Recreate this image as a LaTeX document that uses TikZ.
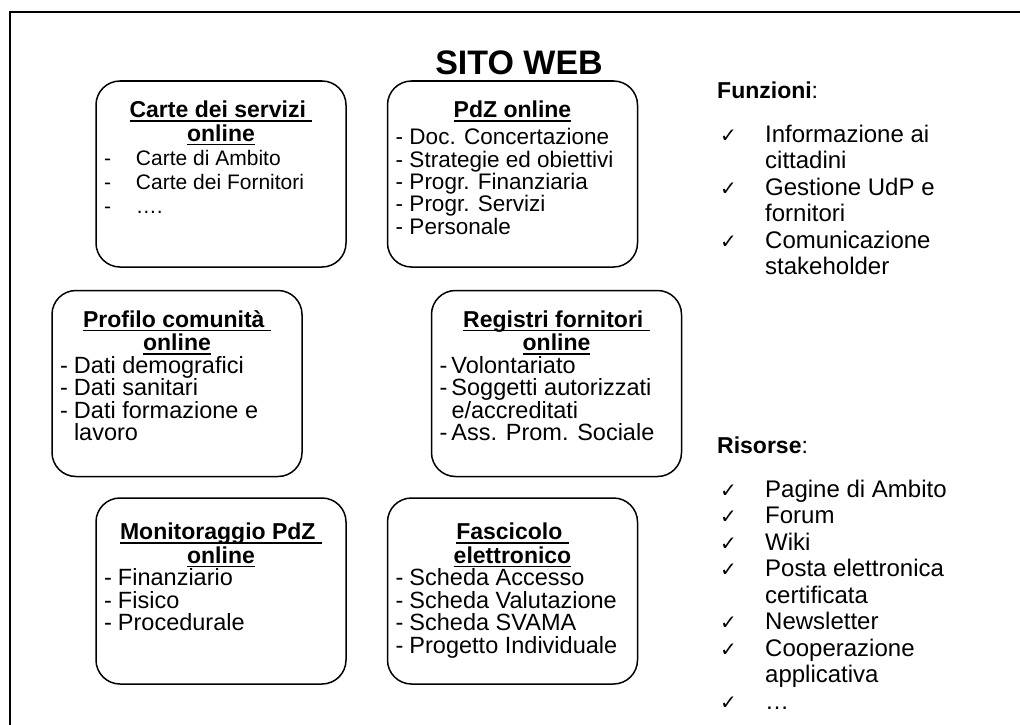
\documentclass[tikz,border=0pt]{standalone}
\usepackage{fontspec}
\setmainfont{Liberation Sans}
\newfontfamily\symfont{DejaVu Sans}
\usetikzlibrary{positioning}

\newcommand{\ulined}[1]{\leavevmode\setbox0=\hbox{#1}\rlap{\rule[-4pt]{\wd0}{1.5pt}}\box0}
\newcommand{\cardhead}[1]{{\centering\fontsize{23}{23.5}\selectfont\bfseries #1\par}}
\newcommand{\dashitem}[2][14pt]{\par\noindent\makebox[#1][l]{-}#2}
\newcommand{\moreline}[2][14pt]{\par\noindent\hspace*{#1}#2}
\newcommand{\cardbody}[3][12pt]{\parbox[c][170pt][t]{234pt}{#2\vspace*{#1}#3}}
\newcommand{\tick}{{\symfont\fontsize{20}{20}\selectfont ✓}}

\begin{document}
\begin{tikzpicture}[
    x=1pt, y=-1pt,
    card/.style={draw, line width=1.5pt, rounded corners=24pt, inner sep=8pt},
    heading/.style={anchor=west, inner sep=0pt, font=\fontsize{23}{28}\selectfont\bfseries},
    checklist/.style={anchor=north west, inner sep=0pt, font=\fontsize{24}{26.5}\selectfont}
]
    \useasboundingbox (0,0) rectangle (1020,725);
    \draw [line width=2pt] (1020,12) -| (10,725);

    \node (sito) [font=\fontsize{34}{40}\selectfont\bfseries] at (519,63) {SITO WEB};

    \node (carte) [card] at (221,174) {\cardbody{\fontsize{21}{24}\selectfont}{%
        \cardhead{\ulined{Carte dei servizi\ }\\\ulined{online}}
        \dashitem[32pt]{Carte di Ambito}
        \dashitem[32pt]{Carte dei Fornitori}
        \dashitem[32pt]{….}}};
    \node (pdz) [card, right=40pt of carte] {\cardbody{\fontsize{22.5}{22.3}\selectfont}{%
        \cardhead{\ulined{PdZ online}}\vspace{5pt}
        \dashitem{Doc. Concertazione}
        \dashitem{Strategie ed obiettivi}
        \dashitem{Progr. Finanziaria}
        \dashitem{Progr. Servizi}
        \dashitem{Personale}}};
    \node (profilo) [card, below=22pt of carte, xshift=-44pt] {\cardbody{\fontsize{23.5}{22.5}\selectfont}{%
        \cardhead{\ulined{Profilo comunità\ }\\\ulined{online}}
        \dashitem{Dati demografici}
        \dashitem{Dati sanitari}
        \dashitem{Dati formazione e}
        \moreline{lavoro}}};
    \node (registri) [card, below=22pt of pdz, xshift=44pt] {\cardbody{\fontsize{23.5}{22.5}\selectfont}{%
        \cardhead{\ulined{Registri fornitori\ }\\\ulined{online}}
        \dashitem[12pt]{Volontariato}
        \dashitem[12pt]{Soggetti autorizzati}
        \moreline[12pt]{e/accreditati}
        \dashitem[12pt]{Ass. Prom. Sociale}}};
    \node (monit) [card, below=20pt of profilo, xshift=44pt] {\cardbody[17pt]{\fontsize{23.5}{22.5}\selectfont}{%
        \cardhead{\ulined{Monitoraggio PdZ\ }\\\ulined{online}}
        \dashitem{Finanziario}
        \dashitem{Fisico}
        \dashitem{Procedurale}}};
    \node (fasc) [card, below=20pt of registri, xshift=-44pt] {\cardbody[17pt]{\fontsize{23.5}{22.5}\selectfont}{%
        \cardhead{\ulined{Fascicolo\ }\\\ulined{elettronico}}
        \dashitem{Scheda Accesso}
        \dashitem{Scheda Valutazione}
        \dashitem{Scheda SVAMA}
        \dashitem{Progetto Individuale}}};

    \node (funz) [heading] at (717,90) {Funzioni\textmd{:}};
    \node (funzlist) [checklist, below=25pt of funz.south west, anchor=north west, xshift=3pt] {%
        \begin{tabular}{@{}p{45pt}@{}l@{}}
        \tick & Informazione ai\\
              & cittadini\\
        \tick & Gestione UdP e\\
              & fornitori\\
        \tick & Comunicazione\\
              & stakeholder
        \end{tabular}};

    \node (ris) [heading] at (717,445) {Risorse\textmd{:}};
    \node (rislist) [checklist, below=25pt of ris.south west, anchor=north west, xshift=3pt] {%
        \begin{tabular}{@{}p{45pt}@{}l@{}}
        \tick & Pagine di Ambito\\
        \tick & Forum\\
        \tick & Wiki\\
        \tick & Posta elettronica\\
              & certificata\\
        \tick & Newsletter\\
        \tick & Cooperazione\\
              & applicativa\\
        \tick & …
        \end{tabular}};
\end{tikzpicture}
\end{document}
